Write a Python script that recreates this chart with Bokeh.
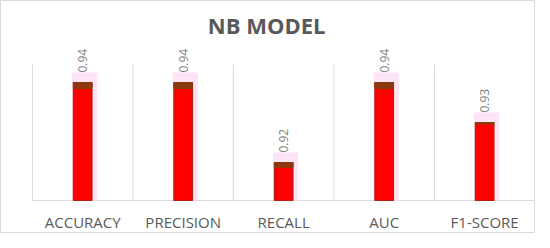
import math
from bokeh.plotting import figure
from bokeh.models import ColumnDataSource, Range1d
from bokeh.core.properties import value
from bokeh.embed import file_html
from bokeh.resources import INLINE

# ---- data ----
categories = ["ACCURACY", "PRECISION", "RECALL", "AUC", "F1-SCORE"]
scores = [0.94, 0.94, 0.92, 0.94, 0.93]
cap_heights = [0.0015, 0.0015, 0.0012, 0.0015, 0.0004]
axis_min = 0.9105
grid_top = 0.9445
title_text = "NB MODEL"

# ---- layout constants (data space, 40 px per 0.01) ----
y_lo, y_hi = 0.90225, 0.9605
x_lo, x_hi = -0.318, 5.006
cat_label_y = 0.90525
title_x, title_y = 2.33, 0.9543
label_gap = 0.0025

n = len(categories)
xs = [i + 0.5 for i in range(n)]
src = ColumnDataSource(dict(
    x=xs,
    xh=[v + 0.02 for v in xs],
    top=scores,
    cap_bottom=[s - c for s, c in zip(scores, cap_heights)],
    halo_top=[s + label_gap for s in scores],
    label=[f"{s:.2f}" for s in scores],
    cat=categories,
    cat_y=[cat_label_y] * n,
))

p = figure(width=535, height=233, output_backend="svg", toolbar_location=None,
           x_range=Range1d(x_lo, x_hi), y_range=Range1d(y_lo, y_hi),
           x_axis_location=None, y_axis_location=None,
           min_border=0)
p.outline_line_color = "#d9d9d9"
p.outline_line_width = 1
p.background_fill_color = "white"
p.border_fill_color = "white"
p.xgrid.grid_line_color = None
p.ygrid.grid_line_color = None

# category separators and base line
bounds = list(range(n + 1))
p.segment(x0=bounds, y0=[axis_min] * (n + 1), x1=bounds, y1=[grid_top] * (n + 1),
          line_color="#d9d9d9", line_width=1)
p.segment(x0=[0], y0=[axis_min], x1=[n], y1=[axis_min],
          line_color="#d9d9d9", line_width=1)

# halo
p.vbar(x="xh", width=0.25, top="halo_top", bottom=axis_min, source=src,
       fill_color="#fde4f6", line_color=None)
# bars
p.vbar(x="x", width=0.185, top="top", bottom=axis_min, source=src,
       fill_color="#ff0000", line_color="#b3200f", line_width=1.2)
# caps
p.vbar(x="x", width=0.185, top="top", bottom="cap_bottom", source=src,
       fill_color="#8b3a10", line_color="#8b3a10", line_width=1)

# value labels
p.text(x="x", y="halo_top", text="label", source=src, angle=math.pi / 2,
       text_align="left", text_baseline="middle",
       text_font=value("Open Sans"), text_font_size="12px",
       text_color="#7f7f7f")

# category labels
p.text(x="x", y="cat_y", text="cat", source=src,
       text_align="center", text_baseline="middle",
       text_font=value("Open Sans"), text_font_size="15px",
       text_color="#595959")

# title
p.text(x=[title_x], y=[title_y], text=[title_text],
       text_align="center", text_baseline="middle",
       text_font=value("Open Sans"), text_font_style="bold",
       text_font_size="22px", text_color="#595959")

open("out.html", "w").write(file_html(p, INLINE))
